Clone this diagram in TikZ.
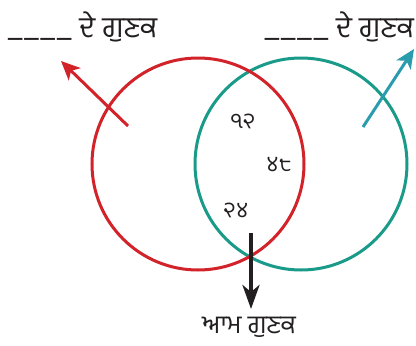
\documentclass[tikz,border=0pt]{standalone}
\usepackage{fontspec}
\newfontfamily\gurmukhi[Script=Gurmukhi]{Hind Jalandhar}
\usetikzlibrary{arrows.meta}
\definecolor{cred}{HTML}{D2232A}
\definecolor{cteal}{HTML}{1A9A88}
\definecolor{carrow}{HTML}{2B9CAD}
\definecolor{ctext}{HTML}{231F20}
\begin{document}
\begin{tikzpicture}[x=1pt,y=-1pt,
  setcircle/.style={circle, line width=3pt, minimum size=212pt, inner sep=0pt},
  label/.style={font=\gurmukhi\fontsize{29}{32}\selectfont, text=ctext, inner sep=0pt},
  botlabel/.style={font=\gurmukhi\fontsize{25.5}{30}\selectfont, text=ctext, inner sep=0pt},
  num/.style={font=\gurmukhi\fontsize{22}{26}\selectfont, text=ctext, inner sep=0pt},
  pointer/.style={line width=3pt, -{Stealth[length=19pt,width=17pt,inset=5pt]}}]
\useasboundingbox (0,0) rectangle (416,346);
\node[setcircle, draw=cteal] (B) at (301,164) {};
\node[setcircle, draw=cred] (A) at (198,164) {};
\node[label, anchor=base west] (LA) at (7,37) {\_\_\_\_ ਦੇ ਗੁਣਕ};
\node[label, anchor=base east] (LB) at (414,37) {\_\_\_\_ ਦੇ ਗੁਣਕ};
\node[botlabel, anchor=base] (LC) at (249,333) {ਆਮ ਗੁਣਕ};
\node[num] (n12) at (243,121) {੧੨};
\node[num] (n48) at (279,165) {੪੮};
\node[num] (n24) at (236,210) {੨੪};
\coordinate (ra) at (128,126);
\coordinate (rb) at (61,61);
\coordinate (ta) at (363,127);
\coordinate (tb) at (414,49);
\coordinate (ka) at (251,233);
\coordinate (kb) at (251,309);
\draw[pointer, draw=cred] (ra) -- (rb);
\draw[pointer, draw=carrow] (ta) -- (tb);
\draw[line width=4pt, draw=ctext, -{Stealth[length=24pt,width=17pt,inset=7pt]}] (ka) -- (kb);
\end{tikzpicture}
\end{document}
